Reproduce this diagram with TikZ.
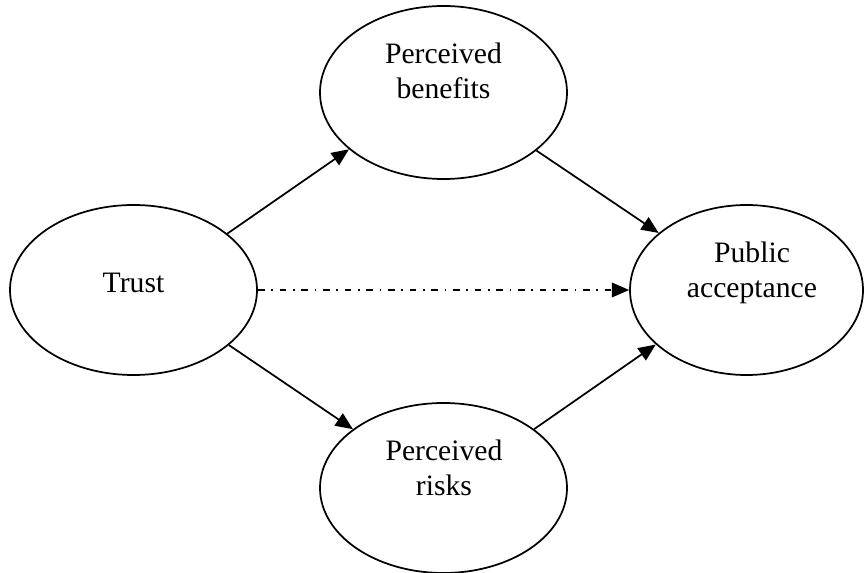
\documentclass[tikz,border=0pt]{standalone}
\usepackage{fontspec}
\setmainfont{Liberation Serif}
\usetikzlibrary{shapes.geometric,arrows.meta}
\begin{document}
\begin{tikzpicture}[x=0.75pt,y=-0.75pt,
  oval/.style={ellipse,draw,line width=1.3pt,inner sep=0pt},
  lbl/.style={font=\fontsize{22.25pt}{26.25pt}\selectfont,align=center,inner sep=0pt,anchor=center},
  link/.style={line width=1.3pt,-{Triangle[length=13pt,width=11pt]}},
  dashdotlink/.style={link,dash pattern=on 5pt off 5pt on 1.25pt off 5pt}]
\useasboundingbox (0,0) rectangle (864,573);
% ellipses
\node[oval,minimum width=185.25pt,minimum height=127.5pt] (trust) at (133.5,290) {};
\node[oval,minimum width=185.25pt,minimum height=129.75pt] (ben) at (443.5,92.5) {};
\node[oval,minimum width=185.25pt,minimum height=127.5pt] (risk) at (443.5,488) {};
\node[oval,minimum width=174.75pt,minimum height=127.5pt] (acc) at (746.5,290) {};
% texts
\node[lbl] (trusttext) at (133.5,282.5) {Trust};
\node[lbl] (bentext) at (443.5,71) {Perceived\\benefits};
\node[lbl] (risktext) at (444,467.5) {Perceived\\risks};
\node[lbl] (acctext) at (752,272.5) {Public\\acceptance};
% connectors
\draw[link] (trust.31.8) -- (ben.211);
\draw[link] (ben.-32.1) -- (acc.147.2);
\draw[link] (trust.-30.5) -- (risk.147.9);
\draw[link] (risk.33.3) -- (acc.211.9);
\draw[dashdotlink] (trust.east) -- (acc.west);
\end{tikzpicture}
\end{document}
